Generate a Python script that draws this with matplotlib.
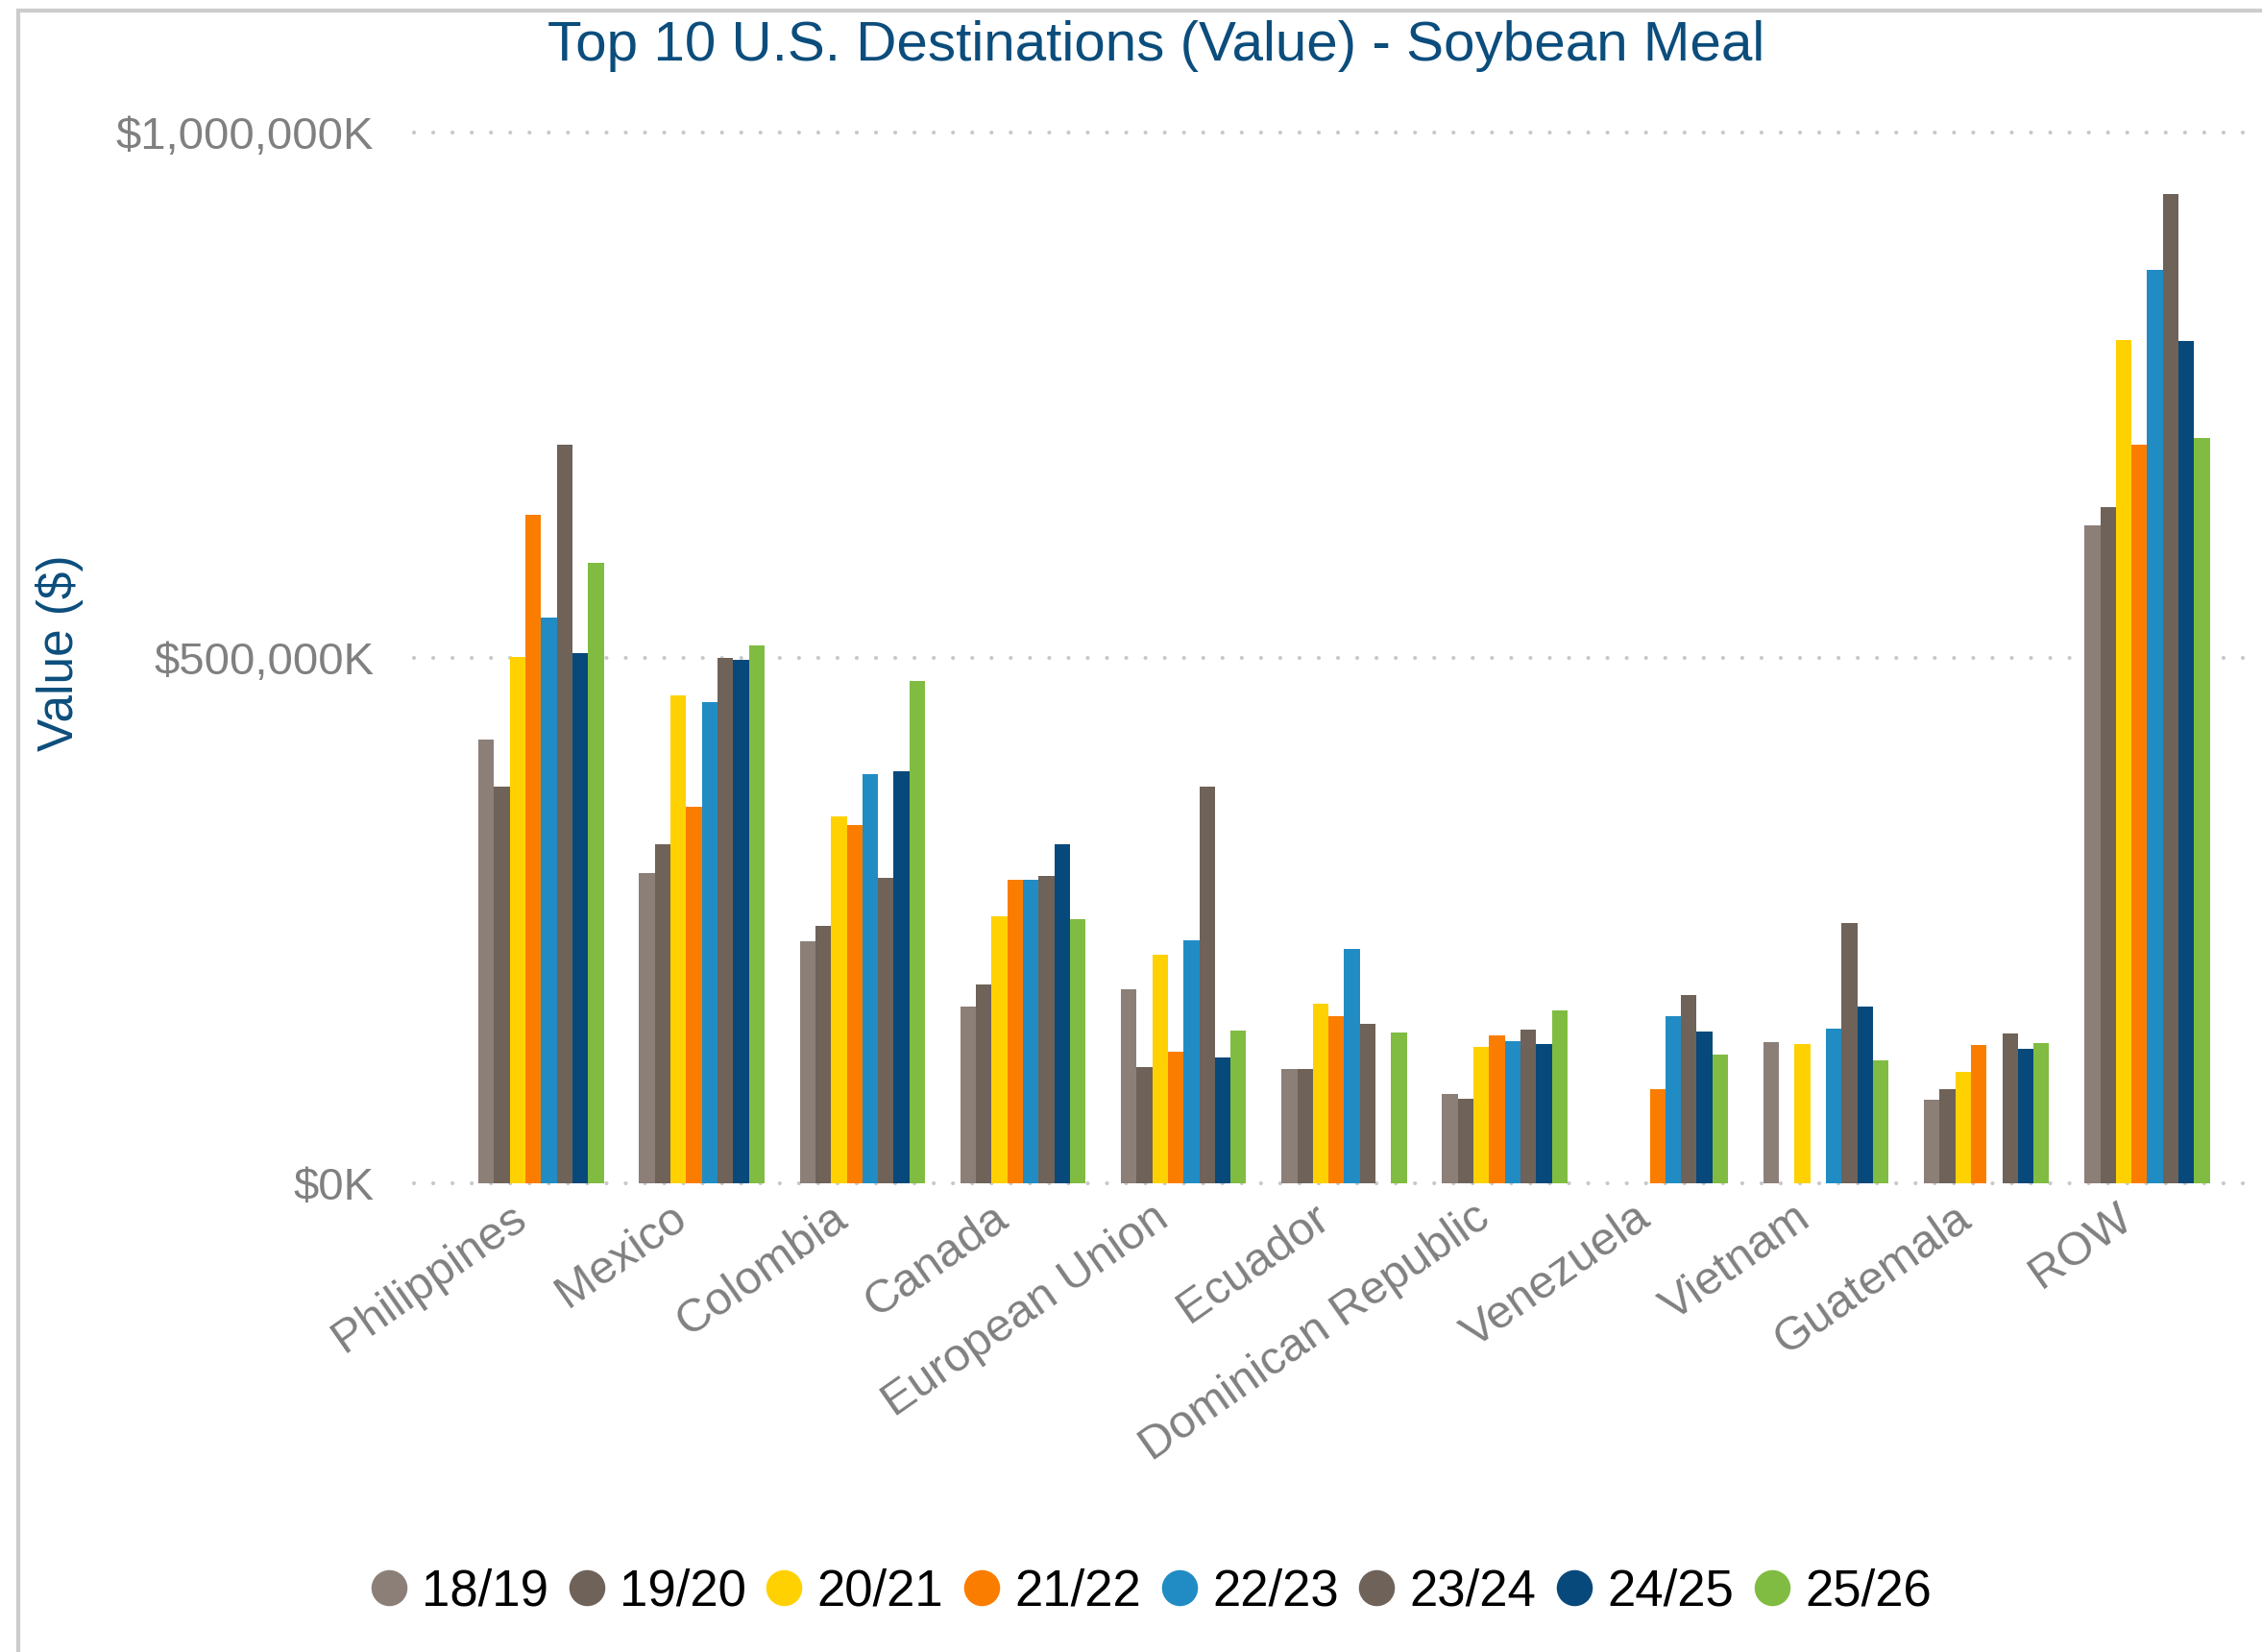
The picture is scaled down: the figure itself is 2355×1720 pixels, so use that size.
import numpy as np
import matplotlib.pyplot as plt
from matplotlib.lines import Line2D
from matplotlib.ticker import FuncFormatter
from matplotlib.transforms import ScaledTranslation

# values in $K
countries = ['Philippines', 'Mexico', 'Colombia', 'Canada', 'European Union', 'Ecuador',
             'Dominican Republic', 'Venezuela', 'Vietnam', 'Guatemala', 'ROW']
years = ['18/19', '19/20', '20/21', '21/22', '22/23', '23/24', '24/25', '25/26']
v_1819 = [422000, 295000, 230000, 168000, 184000, 108000, 85000, 0, 134000, 79000, 626000]
v_1920 = [377000, 322000, 245000, 189000, 110000, 108000, 80000, 0, 0, 89000, 643000]
v_2021 = [501000, 464000, 349000, 254000, 217000, 171000, 129000, 0, 132000, 106000, 803000]
v_2122 = [636000, 358000, 341000, 289000, 125000, 159000, 140000, 89000, 0, 131000, 703000]
v_2223 = [538000, 458000, 389000, 289000, 231000, 223000, 135000, 159000, 147000, 0, 869000]
v_2324 = [703000, 500000, 290000, 292000, 377000, 151000, 146000, 179000, 247000, 142000, 942000]
v_2425 = [504000, 498000, 392000, 322000, 119000, 0, 132000, 144000, 168000, 128000, 802000]
v_2526 = [590000, 512000, 478000, 251000, 145000, 143000, 164000, 122000, 117000, 133000, 709000]
series = [v_1819, v_1920, v_2021, v_2122, v_2223, v_2324, v_2425, v_2526]
colors = ['#8c7f78', '#6e6259', '#ffd100', '#fa7d00', '#218cc4', '#6e6259', '#07497a', '#80bc42']

plt.rcParams['font.family'] = ['Liberation Sans', 'DejaVu Sans']
grey = '#808080'
navy = '#0b4d7c'

fig = plt.figure(figsize=(23.55, 17.2), dpi=100)
ax = fig.add_axes([0.183, 0.284, 0.817, 0.6357])

x = np.arange(len(countries))
w = 0.0975
for i, (vals, c) in enumerate(zip(series, colors)):
    ax.bar(x + (i - 3.5) * w, vals, w, color=c, label=years[i], zorder=3)

# dotted gridlines
for yv in [0, 500000, 1000000]:
    ax.axhline(yv, color='#c8c8c8', lw=3.0, linestyle=(0, (0.01, 4.8)),
               dash_capstyle='round', clip_on=False, zorder=1)

ax.set_xlim(-0.792, 10.715)
ax.set_ylim(0, 1000000)
ax.set_yticks([0, 500000, 1000000])
ax.yaxis.set_major_formatter(FuncFormatter(lambda v, p: f'${v:,.0f}K'))
ax.set_xticks(x)
ax.set_xticklabels(countries, rotation=35, ha='right', rotation_mode='anchor')
ax.tick_params(axis='both', length=0, labelcolor=grey)
ax.tick_params(axis='y', pad=30, labelsize=34)
ax.tick_params(axis='x', pad=10, labelsize=35)
shift = ScaledTranslation(-24 / 72, 0, fig.dpi_scale_trans)
for lbl in ax.get_xticklabels():
    lbl.set_transform(lbl.get_transform() + shift)
for s in ax.spines.values():
    s.set_visible(False)

ax.set_ylabel('Value ($)', fontsize=37, color=navy)
ax.yaxis.set_label_coords(-0.179, 0.505)
fig.text(0.511, 0.972, 'Top 10 U.S. Destinations (Value) - Soybean Meal', fontsize=42,
         color=navy, ha='center', va='center')

handles = [Line2D([], [], marker='o', ls='none', color=c, markersize=26) for c in colors]
fig.legend(handles, years, loc='center', bbox_to_anchor=(0.509, 0.0366), ncol=8, frameon=False,
           fontsize=38, handlelength=0.7, handletextpad=0.3, columnspacing=0.4,
           borderpad=0, borderaxespad=0)

# outer frame (left and top)
fig.add_artist(Line2D([0.0081, 0.0081], [0, 0.9936], color='#cccccc', lw=3, transform=fig.transFigure))
fig.add_artist(Line2D([0.0081, 1.0], [0.9936, 0.9936], color='#cccccc', lw=3, transform=fig.transFigure))

fig.savefig('out.png', dpi=100)
